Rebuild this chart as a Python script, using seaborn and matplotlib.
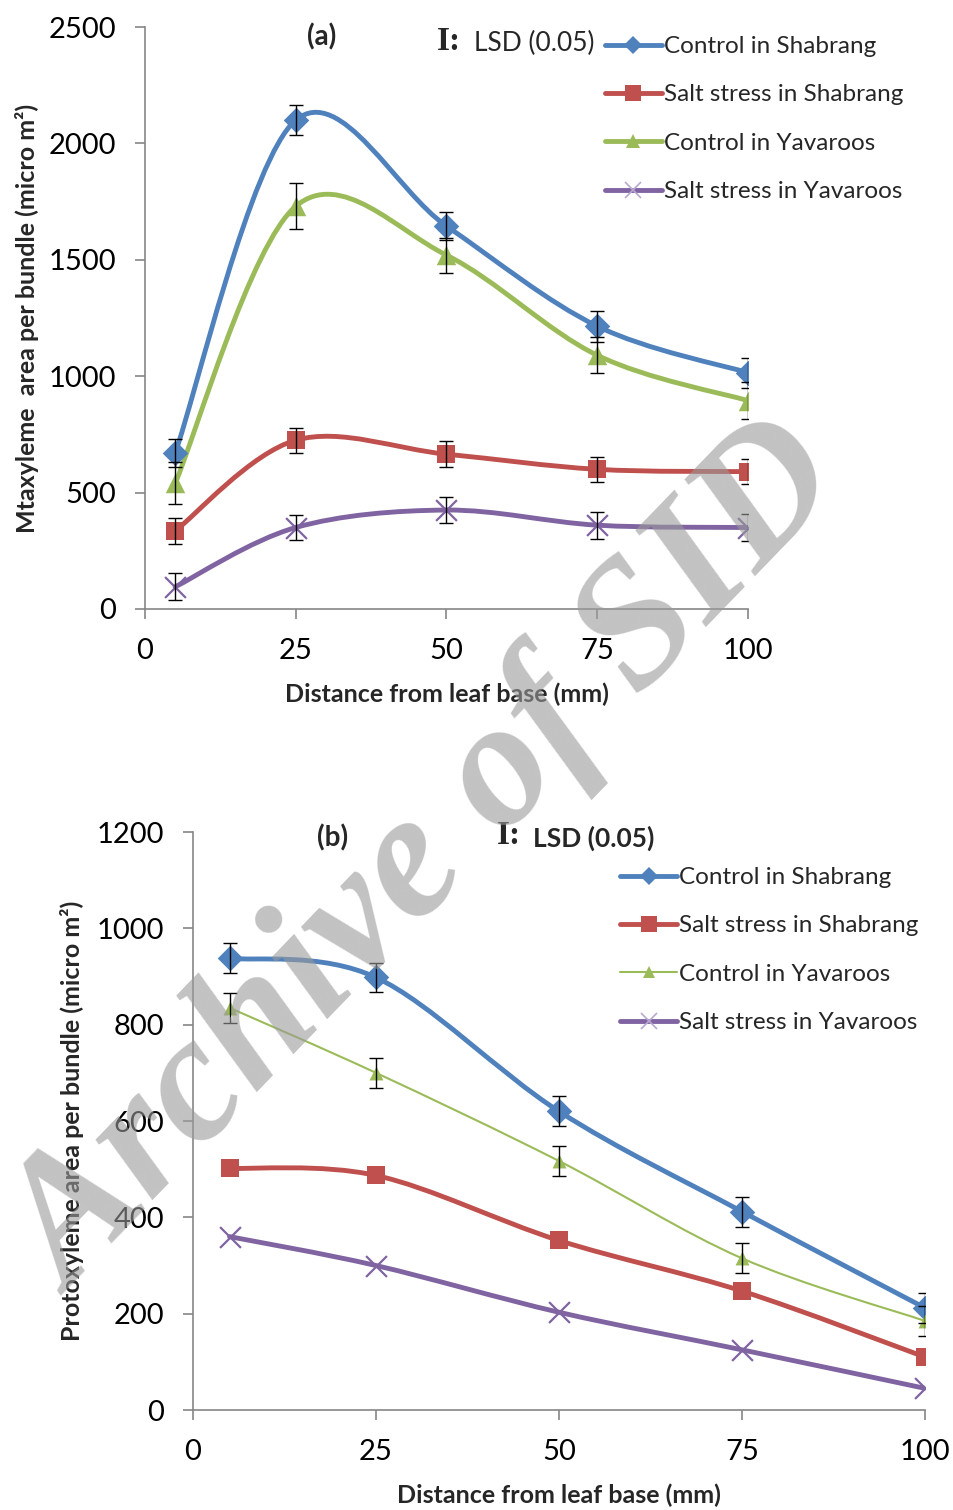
import numpy as np
import pandas as pd
import seaborn as sns
import matplotlib.pyplot as plt
from matplotlib.path import Path
from matplotlib.patches import PathPatch
from matplotlib.lines import Line2D

# distance from leaf base (mm)
distance = [5, 25, 50, 75, 100]

series_names = ["Control in Shabrang", "Salt stress in Shabrang",
                "Control in Yavaroos", "Salt stress in Yavaroos"]

# (a) metaxylem area per bundle
meta_ctrl_shab = [670, 2100, 1645, 1215, 1015]
meta_salt_shab = [335, 725, 665, 600, 590]
meta_ctrl_yav = [540, 1730, 1520, 1090, 895]
meta_salt_yav = [95, 350, 425, 360, 350]
meta_lsd_ctrl_shab = [62, 65, 62, 66, 65]
meta_lsd_salt_shab = [55, 54, 55, 55, 55]
meta_lsd_ctrl_yav = [90, 99, 75, 77, 80]
meta_lsd_salt_yav = [58, 55, 56, 58, 58]

# (b) protoxylem area per bundle
proto_ctrl_shab = [938, 898, 620, 412, 212]
proto_salt_shab = [502, 487, 352, 247, 110]
proto_ctrl_yav = [835, 700, 517, 315, 185]
proto_salt_yav = [360, 300, 203, 125, 45]
proto_lsd_ctrl_shab = [31, 31, 31, 31, 31]
proto_lsd_ctrl_yav = [31, 31, 31, 31, 31]

colors = ["#4F81BD", "#C0504D", "#9BBB59", "#8064A2"]
markers = ["D", "s", "^", "x"]

sns.set_style("white")
plt.rcParams["font.family"] = ["Lato", "DejaVu Sans"]


def smooth_path(xs, ys):
    # Excel-style smoothed line through the points (cubic Bezier)
    px = [xs[0]] + list(xs) + [xs[-1]]
    py = [ys[0]] + list(ys) + [ys[-1]]
    verts = [(xs[0], ys[0])]
    codes = [Path.MOVETO]
    for i in range(1, len(px) - 2):
        c1 = (px[i] + (px[i + 1] - px[i - 1]) / 6, py[i] + (py[i + 1] - py[i - 1]) / 6)
        c2 = (px[i + 1] - (px[i + 2] - px[i]) / 6, py[i + 1] - (py[i + 2] - py[i]) / 6)
        verts += [c1, c2, (px[i + 1], py[i + 1])]
        codes += [Path.CURVE4] * 3
    return Path(verts, codes)


def panel(ax, values, lsds, widths, msizes, ymax, ystep, ylabel):
    for name, vals, lsd, col, mk, lw, ms in zip(series_names, values, lsds, colors,
                                               markers, widths, msizes):
        ax.add_patch(PathPatch(smooth_path(distance, vals), facecolor="none",
                               edgecolor=col, lw=lw, zorder=2, capstyle="round"))
        df = pd.DataFrame({"x": distance, "y": vals})
        if mk == "x":
            sns.scatterplot(data=df, x="x", y="y", ax=ax, marker="x", s=ms ** 2,
                            color=col, linewidth=1.6, zorder=3)
        else:
            sns.scatterplot(data=df, x="x", y="y", ax=ax, marker=mk, s=ms ** 2,
                            color=col, edgecolor=col, linewidth=0, zorder=3)
        if lsd is not None:
            ax.errorbar(distance, vals, yerr=lsd, fmt="none", ecolor="black",
                        elinewidth=1, capsize=5, capthick=1, zorder=4)
    ax.set_xlim(0, 100)
    ax.set_ylim(0, ymax)
    ax.set_xticks([0, 25, 50, 75, 100])
    ax.set_yticks(np.arange(0, ymax + 1, ystep))
    for s in ["top", "right"]:
        ax.spines[s].set_visible(False)
    for s in ["left", "bottom"]:
        ax.spines[s].set_color("#868686")
        ax.spines[s].set_linewidth(1.2)
    ax.tick_params(axis="both", direction="out", length=7, width=1.2, color="#868686",
                   labelsize=21, labelcolor="black", left=True, bottom=True)
    ax.tick_params(axis="x", pad=14)
    ax.tick_params(axis="y", pad=14)
    ax.set_xlabel("Distance from leaf base (mm)", fontsize=18, fontweight="bold", labelpad=13)
    ax.set_ylabel(ylabel, fontsize=18, fontweight="bold")


fig = plt.figure(figsize=(9.54, 15.1), dpi=100)
ax1 = fig.add_axes([0.152, 0.5967, 0.632, 0.3854])
ax2 = fig.add_axes([0.2023, 0.0662, 0.7673, 0.3828])

panel(ax1,
      [meta_ctrl_shab, meta_salt_shab, meta_ctrl_yav, meta_salt_yav],
      [meta_lsd_ctrl_shab, meta_lsd_salt_shab, meta_lsd_ctrl_yav, meta_lsd_salt_yav],
      [3.5, 3.5, 3.5, 3.5], [13, 13, 14, 15], 2500, 500,
      "Mtaxyleme  area per bundle (micro m\u00b2)")
panel(ax2,
      [proto_ctrl_shab, proto_salt_shab, proto_ctrl_yav, proto_salt_yav],
      [proto_lsd_ctrl_shab, None, proto_lsd_ctrl_yav, None],
      [3.5, 3.5, 1.5, 3.5], [13, 13, 10, 15], 1200, 200,
      "Protoxyleme area per bundle (micro m\u00b2)")
ax1.yaxis.set_label_coords(-0.175, 0.5)
ax2.yaxis.set_label_coords(-0.149, 0.5)


def legend_for(ax, widths, msizes, x0, y0):
    handles = []
    for col, mk, lw, ms in zip(colors, markers, widths, msizes):
        if mk == "x":
            handles.append(Line2D([], [], color=col, lw=lw, marker="x", markersize=ms,
                                  markeredgewidth=1.2, markeredgecolor="#B8A8D0"))
        else:
            handles.append(Line2D([], [], color=col, lw=lw, marker=mk, markersize=ms,
                                  markeredgewidth=0))
    ax.legend(handles, series_names, loc="upper left", bbox_to_anchor=(x0, y0),
              bbox_transform=fig.transFigure, frameon=False, fontsize=17.5,
              handlelength=2.35, handletextpad=0.08, labelspacing=1.13,
              borderpad=0, borderaxespad=0)


legend_for(ax1, [3.5] * 4, [9, 11, 10, 12], 0.634, 1 - 36 / 1510)
legend_for(ax2, [3.5, 3.5, 1.5, 3.5], [9, 11, 9, 12], 0.650, 1 - 867 / 1510)

# panel labels and LSD note
fig.text(322 / 954, 1 - 37 / 1510, "(a)", fontsize=20, fontweight="bold",
         ha="center", va="center")
fig.text(333 / 954, 1 - 838 / 1510, "(b)", fontsize=20, fontweight="bold",
         ha="center", va="center")
fig.text(449 / 954, 1 - 41 / 1510, "I:", fontsize=24, fontweight="bold",
         family=["Liberation Serif"], ha="center", va="center")
fig.text(474 / 954, 1 - 43 / 1510, "LSD (0.05)", fontsize=19, ha="left", va="center")
fig.text(509 / 954, 1 - 836 / 1510, "I:", fontsize=24, fontweight="bold",
         family=["Liberation Serif"], ha="center", va="center")
fig.text(533 / 954, 1 - 838 / 1510, "LSD (0.05)", fontsize=19, fontweight="bold",
         ha="left", va="center")

# watermark
fig.text(428 / 954, 1 - 860 / 1510, "Archive of SID", fontsize=130, fontweight="bold",
         fontstyle="italic", family=["Liberation Serif"], color="#9a9a9a", alpha=0.6,
         rotation=46, ha="center", va="center", zorder=10)

fig.savefig("out.png", dpi=100)
